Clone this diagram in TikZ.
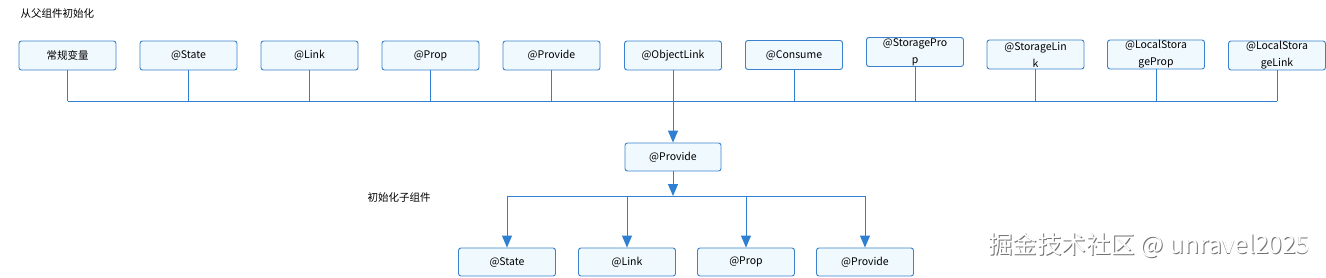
\documentclass[tikz,border=0pt]{standalone}
\usepackage{fontspec}
\setmainfont{Noto Sans CJK SC}
\usetikzlibrary{arrows.meta}
\definecolor{bd}{HTML}{3A82CC}
\definecolor{bf}{HTML}{F0F9FE}
\definecolor{lnc}{HTML}{2F7FD2}
\begin{document}
\begin{tikzpicture}[x=1pt,y=-1pt,
  box/.style={draw=bd, fill=bf, rounded corners=2.5pt, minimum width=97pt, minimum height=29pt,
    line width=0.9pt, font=\fontsize{10.5}{17}\selectfont, align=center, inner sep=0pt},
  lnk/.style={draw=lnc, line width=1pt},
  arr/.style={lnk, -{Triangle[length=12pt,width=10pt]}},
  lbl/.style={anchor=west, font=\fontsize{10.5}{12}\selectfont},
  wmk/.style={anchor=east, font=\fontsize{24.5}{26}\selectfont}]
\useasboundingbox (0,0) rectangle (1326,277);
\node[lbl] (t1) at (17,14) {从父组件初始化};
\node[box] (n1) at (67.5,55.5) {常规变量};
\node[box] (n2) at (188.5,55.5) {@State};
\node[box] (n3) at (309.5,55.5) {@Link};
\node[box] (n4) at (430.5,55.5) {@Prop};
\node[box] (n5) at (551.5,55.5) {@Provide};
\node[box] (n6) at (673,55.5) {@ObjectLink};
\node[box] (n7) at (794,55) {@Consume};
\node[box] (n8) at (915,52) {@StoragePro\\p};
\node[box] (n9) at (1035.5,54.5) {@StorageLin\\k};
\node[box] (n10) at (1156,54.5) {@LocalStora\\geProp};
\node[box] (n11) at (1277,55.5) {@LocalStora\\geLink};
\coordinate (busL) at (67.5,101);
\coordinate (busR) at (1277,101);
\draw[lnk] (busL) -- (busR);
\foreach \i in {1,2,3,4,5,7,8,9,10,11} {\draw[lnk] (n\i.south) -- (n\i.south |- busL);}
\node[box, minimum width=96pt, minimum height=28pt] (p) at (673,157) {@Provide};
\draw[arr] (n6.south) -- (p.north);
\coordinate (bus2) at (673,196);
\draw[arr] (p.south) -- (bus2);
\node[lbl] (t2) at (364,198) {初始化子组件};
\node[box, minimum height=28pt] (b1) at (507,262) {@State};
\node[box, minimum height=28pt] (b2) at (627,262) {@Link};
\node[box, minimum height=28pt] (b3) at (746,262) {@Prop};
\node[box, minimum height=28pt] (b4) at (865,262) {@Provide};
\draw[lnk] (b1.north |- bus2) -- (b4.north |- bus2);
\foreach \i in {1,2,3,4} {\draw[arr] (b\i.north |- bus2) -- (b\i.north);}
\node[wmk, text=black!55] (wms) at (1314,245.8) {掘金技术社区 @ unravel2025};
\node[wmk, text=white] (wm) at (1313.2,245) {掘金技术社区 @ unravel2025};
\end{tikzpicture}
\end{document}
